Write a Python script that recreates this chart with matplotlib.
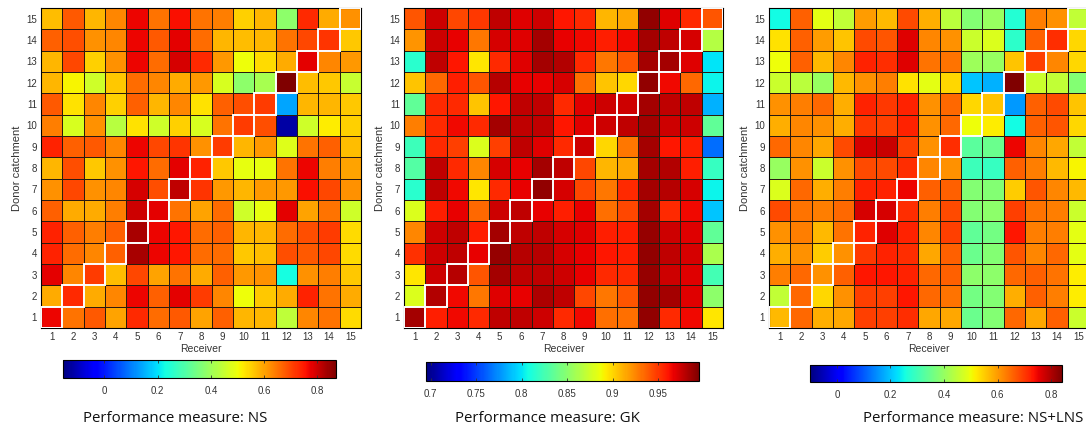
import numpy as np
import matplotlib.pyplot as plt

# rows listed from donor 15 (top) down to donor 1, columns = receiver 1..15
ns = [
    [0.57, 0.68, 0.58, 0.63, 0.77, 0.65, 0.76, 0.65, 0.64, 0.55, 0.58, 0.38, 0.73, 0.59, 0.62],
    [0.67, 0.69, 0.62, 0.63, 0.77, 0.68, 0.78, 0.66, 0.58, 0.57, 0.58, 0.65, 0.70, 0.72, 0.56],
    [0.58, 0.70, 0.55, 0.62, 0.77, 0.66, 0.79, 0.73, 0.61, 0.50, 0.54, 0.59, 0.78, 0.63, 0.61],
    [0.58, 0.51, 0.46, 0.56, 0.66, 0.63, 0.59, 0.61, 0.47, 0.38, 0.41, 0.87, 0.57, 0.56, 0.45],
    [0.68, 0.53, 0.63, 0.55, 0.67, 0.58, 0.63, 0.53, 0.67, 0.69, 0.71, 0.14, 0.58, 0.58, 0.56],
    [0.64, 0.47, 0.62, 0.43, 0.53, 0.46, 0.55, 0.47, 0.65, 0.71, 0.69, -0.12, 0.46, 0.52, 0.55],
    [0.74, 0.67, 0.68, 0.63, 0.77, 0.70, 0.72, 0.62, 0.71, 0.58, 0.61, 0.48, 0.65, 0.67, 0.57],
    [0.58, 0.69, 0.56, 0.62, 0.75, 0.66, 0.78, 0.74, 0.56, 0.49, 0.49, 0.65, 0.77, 0.64, 0.60],
    [0.62, 0.70, 0.62, 0.63, 0.79, 0.69, 0.81, 0.72, 0.61, 0.58, 0.61, 0.61, 0.76, 0.70, 0.62],
    [0.67, 0.59, 0.59, 0.64, 0.80, 0.78, 0.65, 0.60, 0.66, 0.46, 0.49, 0.78, 0.60, 0.65, 0.46],
    [0.74, 0.67, 0.64, 0.67, 0.83, 0.77, 0.75, 0.66, 0.67, 0.58, 0.58, 0.66, 0.69, 0.71, 0.54],
    [0.74, 0.66, 0.63, 0.67, 0.83, 0.77, 0.75, 0.66, 0.66, 0.56, 0.57, 0.69, 0.68, 0.70, 0.54],
    [0.78, 0.63, 0.71, 0.57, 0.70, 0.60, 0.65, 0.59, 0.67, 0.61, 0.62, 0.23, 0.62, 0.64, 0.56],
    [0.59, 0.73, 0.59, 0.63, 0.77, 0.67, 0.78, 0.71, 0.63, 0.50, 0.56, 0.59, 0.74, 0.65, 0.59],
    [0.77, 0.65, 0.68, 0.60, 0.73, 0.66, 0.68, 0.60, 0.67, 0.58, 0.58, 0.44, 0.63, 0.65, 0.54],
]

gk = [
    [0.940, 0.975, 0.945, 0.950, 0.978, 0.970, 0.975, 0.960, 0.955, 0.910, 0.915, 0.990, 0.970, 0.955, 0.940],
    [0.920, 0.975, 0.968, 0.930, 0.972, 0.970, 0.985, 0.968, 0.965, 0.958, 0.965, 0.985, 0.978, 0.972, 0.865],
    [0.815, 0.978, 0.960, 0.895, 0.955, 0.970, 0.985, 0.982, 0.955, 0.930, 0.940, 0.985, 0.985, 0.970, 0.800],
    [0.905, 0.935, 0.958, 0.940, 0.980, 0.968, 0.968, 0.972, 0.932, 0.905, 0.900, 0.990, 0.965, 0.935, 0.805],
    [0.835, 0.955, 0.955, 0.905, 0.960, 0.978, 0.978, 0.955, 0.970, 0.975, 0.975, 0.985, 0.978, 0.978, 0.785],
    [0.928, 0.955, 0.965, 0.955, 0.985, 0.978, 0.978, 0.960, 0.970, 0.975, 0.978, 0.985, 0.975, 0.975, 0.835],
    [0.822, 0.955, 0.948, 0.880, 0.948, 0.978, 0.970, 0.955, 0.975, 0.900, 0.930, 0.985, 0.960, 0.958, 0.765],
    [0.830, 0.978, 0.955, 0.925, 0.972, 0.968, 0.985, 0.978, 0.945, 0.910, 0.915, 0.985, 0.982, 0.958, 0.820],
    [0.815, 0.978, 0.965, 0.895, 0.955, 0.968, 0.990, 0.972, 0.945, 0.930, 0.955, 0.985, 0.980, 0.972, 0.805],
    [0.880, 0.958, 0.968, 0.935, 0.975, 0.978, 0.968, 0.958, 0.968, 0.932, 0.945, 0.985, 0.955, 0.965, 0.790],
    [0.925, 0.975, 0.978, 0.958, 0.985, 0.978, 0.978, 0.972, 0.970, 0.958, 0.958, 0.988, 0.975, 0.970, 0.835],
    [0.952, 0.975, 0.978, 0.968, 0.988, 0.980, 0.980, 0.972, 0.968, 0.960, 0.958, 0.990, 0.978, 0.972, 0.862],
    [0.895, 0.975, 0.980, 0.940, 0.985, 0.978, 0.978, 0.975, 0.968, 0.955, 0.955, 0.988, 0.975, 0.970, 0.825],
    [0.880, 0.982, 0.965, 0.930, 0.970, 0.968, 0.983, 0.978, 0.945, 0.930, 0.940, 0.990, 0.985, 0.970, 0.852],
    [0.985, 0.958, 0.965, 0.955, 0.978, 0.978, 0.975, 0.955, 0.965, 0.932, 0.932, 0.990, 0.955, 0.965, 0.895],
]

nslns = [
    [0.25, 0.66, 0.49, 0.45, 0.60, 0.57, 0.68, 0.58, 0.44, 0.38, 0.40, 0.27, 0.63, 0.61, 0.45],
    [0.53, 0.66, 0.60, 0.56, 0.68, 0.67, 0.76, 0.62, 0.61, 0.46, 0.48, 0.28, 0.66, 0.71, 0.54],
    [0.50, 0.66, 0.57, 0.62, 0.72, 0.71, 0.76, 0.64, 0.64, 0.41, 0.40, 0.56, 0.69, 0.62, 0.54],
    [0.46, 0.44, 0.40, 0.57, 0.61, 0.63, 0.53, 0.49, 0.54, 0.20, 0.18, 0.84, 0.46, 0.45, 0.38],
    [0.61, 0.63, 0.65, 0.58, 0.72, 0.70, 0.72, 0.61, 0.65, 0.54, 0.56, 0.16, 0.66, 0.68, 0.56],
    [0.58, 0.62, 0.61, 0.58, 0.70, 0.69, 0.72, 0.61, 0.65, 0.50, 0.52, 0.25, 0.66, 0.67, 0.54],
    [0.65, 0.62, 0.59, 0.68, 0.77, 0.78, 0.69, 0.61, 0.71, 0.33, 0.35, 0.75, 0.62, 0.59, 0.45],
    [0.40, 0.61, 0.46, 0.61, 0.68, 0.68, 0.71, 0.62, 0.61, 0.30, 0.29, 0.66, 0.63, 0.57, 0.51],
    [0.48, 0.65, 0.58, 0.63, 0.72, 0.72, 0.75, 0.66, 0.66, 0.38, 0.38, 0.55, 0.67, 0.62, 0.57],
    [0.68, 0.64, 0.63, 0.65, 0.77, 0.77, 0.71, 0.63, 0.68, 0.38, 0.39, 0.69, 0.64, 0.63, 0.46],
    [0.61, 0.63, 0.57, 0.64, 0.72, 0.76, 0.72, 0.62, 0.69, 0.34, 0.36, 0.73, 0.63, 0.63, 0.49],
    [0.58, 0.61, 0.55, 0.61, 0.70, 0.72, 0.71, 0.59, 0.66, 0.35, 0.38, 0.67, 0.62, 0.65, 0.49],
    [0.63, 0.65, 0.61, 0.66, 0.73, 0.73, 0.72, 0.65, 0.66, 0.39, 0.39, 0.65, 0.66, 0.64, 0.52],
    [0.45, 0.65, 0.54, 0.61, 0.69, 0.69, 0.73, 0.65, 0.64, 0.36, 0.38, 0.58, 0.66, 0.63, 0.52],
    [0.57, 0.65, 0.58, 0.59, 0.69, 0.69, 0.71, 0.59, 0.59, 0.35, 0.38, 0.65, 0.59, 0.66, 0.46],
]

titles = ['Performance measure: NS', 'Performance measure: GK', 'Performance measure: NS+LNS']
ranges = [(-0.155, 0.87), (0.695, 0.995), (-0.1, 0.84)]
cbar_ticks = [[0, 0.2, 0.4, 0.6, 0.8],
              [0.7, 0.75, 0.8, 0.85, 0.9, 0.95],
              [0, 0.2, 0.4, 0.6, 0.8]]
cbar_labels = [['0', '0.2', '0.4', '0.6', '0.8'],
               ['0.7', '0.75', '0.8', '0.85', '0.9', '0.95'],
               ['0', '0.2', '0.4', '0.6', '0.8']]

ax_rects = [[0.0378, 0.2407, 0.2947, 0.7407],
            [0.3720, 0.2407, 0.2937, 0.7407],
            [0.7081, 0.2407, 0.2947, 0.7407]]
cb_rects = [[0.0580, 0.1250, 0.2514, 0.0417],
            [0.3923, 0.1180, 0.2514, 0.0440],
            [0.7459, 0.1157, 0.2320, 0.0395]]
title_x = [0.0764, 0.4190, 0.7950]

tick_font = 'Liberation Sans'
txt_col = '#333333'

fig = plt.figure(figsize=[10.86, 4.32], dpi=100)
n = 15
edges = np.arange(n + 1) + 0.5

for i, data in enumerate([ns, gk, nslns]):
    z = np.array(data)[::-1]  # row 0 -> donor 1
    ax = fig.add_axes(ax_rects[i])
    mesh = ax.pcolormesh(edges, edges, z, cmap='jet', vmin=ranges[i][0], vmax=ranges[i][1],
                         edgecolors='#2a1a10', linewidth=0.4)
    # white boxes round the diagonal cells
    for k in range(1, n + 1):
        ax.add_patch(plt.Rectangle((k - 0.5, k - 0.5), 1, 1, fill=False,
                                   edgecolor='white', linewidth=1.4, zorder=3))
    ax.set_xlim(0.5, 15.5)
    ax.set_ylim(0.5, 15.5)
    ax.set_xticks(range(1, 16))
    ax.set_yticks(range(1, 16))
    ax.tick_params(length=0, labelsize=7, colors=txt_col, pad=3)
    for lab in ax.get_xticklabels() + ax.get_yticklabels():
        lab.set_family(tick_font)
    ax.set_xlabel('Receiver', fontsize=7.5, color=txt_col, family=tick_font, labelpad=1)
    ax.set_ylabel('Donor catchment', fontsize=8, color=txt_col, family=tick_font, labelpad=3)
    for s in ax.spines.values():
        s.set_linewidth(0.8)

    cax = fig.add_axes(cb_rects[i])
    cb = fig.colorbar(mesh, cax=cax, orientation='horizontal')
    cb.set_ticks(cbar_ticks[i])
    cb.set_ticklabels(cbar_labels[i])
    cax.tick_params(direction='in', length=2, width=0.6, labelsize=7, colors=txt_col,
                    pad=6, top=True)
    for lab in cax.get_xticklabels():
        lab.set_family(tick_font)
    cb.outline.set_linewidth(0.8)

    fig.text(title_x[i], 0.032, titles[i], ha='left', va='center', fontsize=10.8,
             family='Open Sans', color='#111111')

plt.savefig('out.png', dpi=100)
